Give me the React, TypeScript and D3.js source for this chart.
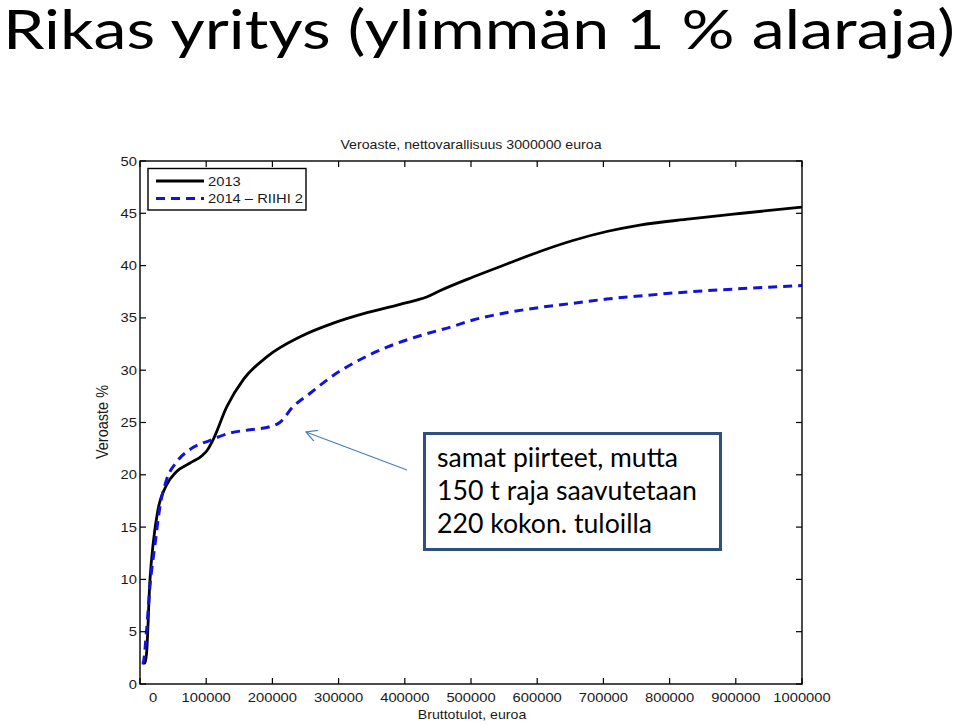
import React from "react";
import * as d3 from "d3";

const xTicks = [0, 100000, 200000, 300000, 400000, 500000, 600000, 700000, 800000, 900000, 1000000];
const yTicks = [0, 5, 10, 15, 20, 25, 30, 35, 40, 45, 50];

const income2013 = [4500, 7600, 10000, 15000, 20000, 27000, 40000, 55000, 75000, 95000, 101000, 110000, 131000, 156000, 192000, 242000, 292000, 343000, 393000, 418000, 433000, 453000, 503000, 554000, 604000, 654000, 705000, 755000, 831000, 906000, 1000000];
const rate2013 = [2.0, 2.0, 3.0, 9.9, 13.5, 16.6, 19.0, 20.3, 21.1, 21.9, 22.3, 23.3, 26.5, 29.1, 31.3, 33.2, 34.5, 35.5, 36.3, 36.7, 37.0, 37.6, 38.91, 40.15, 41.35, 42.4, 43.26, 43.88, 44.46, 44.98, 45.6];

const income2014 = [2600, 4500, 10000, 15000, 23000, 30000, 40000, 55000, 75000, 106000, 136000, 166000, 196000, 211000, 231000, 257000, 292000, 332000, 373000, 418000, 473000, 503000, 554000, 604000, 654000, 705000, 755000, 831000, 910000, 1000000];
const rate2014 = [2.0, 2.0, 5.2, 9.3, 13.5, 16.9, 19.5, 21.2, 22.4, 23.3, 24.0, 24.3, 24.6, 25.0, 26.5, 27.8, 29.5, 31.0, 32.2, 33.2, 34.2, 34.8, 35.5, 36.0, 36.4, 36.8, 37.1, 37.5, 37.8, 38.1];

const seriesNames = ["2013", "2014 \u2013 RIIHI 2"];
const pageTitle = "Rikas yritys (ylimmän 1 % alaraja)";
const chartTitle = "Veroaste, nettovarallisuus 3000000 euroa";
const xLabel = "Bruttotulot, euroa";
const yLabel = "Veroaste %";
const noteLines = ["samat piirteet, mutta", "150 t raja saavutetaan", "220 kokon. tuloilla"];
const noteWidths = [241, 260, 215];

const L = 140, R = 802, T = 161, B = 684;
const AX = "Liberation Sans, Arial, sans-serif";
const SX = 1.18;

function SText({ x, y, anchor = "middle", size = 12.5, children }: any) {
  return (
    <text transform={`translate(${x},${y}) scale(${SX},1)`} textAnchor={anchor} fontSize={size} fontFamily={AX} fill="#1a1a1a">
      {children}
    </text>
  );
}

export default function App() {
  const x = d3.scaleLinear().domain([0, 1000000]).range([L, R]);
  const y = d3.scaleLinear().domain([0, 50]).range([B, T]);
  const line = d3.line<[number, number]>().x((d) => x(d[0])).y((d) => y(d[1])).curve(d3.curveMonotoneX);
  const d2013 = line(income2013.map((v, i) => [v, rate2013[i]] as [number, number])) || "";
  const d2014 = line(income2014.map((v, i) => [v, rate2014[i]] as [number, number])) || "";

  return (
    <svg width={960} height={726} style={{ position: "absolute", left: 0, top: 0, background: "#fff" }}>
      <rect x={0} y={0} width={960} height={726} fill="#fff" />
      <text x={3} y={49} fontFamily="Lato, 'Open Sans', sans-serif" fontSize={55} fill="#000" textLength={952} lengthAdjust="spacingAndGlyphs">
        {pageTitle}
      </text>

      <SText x={471} y={149} size={12}>{chartTitle}</SText>

      <defs>
        <clipPath id="plotclip">
          <rect x={L} y={T} width={R - L} height={B - T} />
        </clipPath>
      </defs>
      <g clipPath="url(#plotclip)">
        <path d={d2013} fill="none" stroke="#000" strokeWidth={2.8} />
        <path d={d2014} fill="none" stroke="#1212dc" strokeWidth={3} strokeDasharray="9,6" />
      </g>

      <rect x={L} y={T} width={R - L} height={B - T} fill="none" stroke="#000" strokeWidth={1.4} />
      {xTicks.map((t) => (
        <g key={"xt" + t}>
          <line x1={x(t)} x2={x(t)} y1={B} y2={B - 6} stroke="#000" strokeWidth={1.2} />
          <line x1={x(t)} x2={x(t)} y1={T} y2={T + 6} stroke="#000" strokeWidth={1.2} />
          <SText x={x(t) + (t === 0 ? 13 : 0)} y={702}>{String(t)}</SText>
        </g>
      ))}
      {yTicks.map((t) => (
        <g key={"yt" + t}>
          <line x1={L} x2={L + 6} y1={y(t)} y2={y(t)} stroke="#000" strokeWidth={1.2} />
          <line x1={R} x2={R - 6} y1={y(t)} y2={y(t)} stroke="#000" strokeWidth={1.2} />
          <SText x={137} y={y(t) + 4.5} anchor="end">{String(t)}</SText>
        </g>
      ))}

      <SText x={472} y={719} size={12}>{xLabel}</SText>
      <text transform={`translate(108,422) rotate(-90) scale(1,${SX})`} textAnchor="middle" fontSize={14.5} fontFamily={AX} fill="#1a1a1a">
        {yLabel}
      </text>

      <rect x={148} y={168.5} width={158} height={41.5} fill="#fff" stroke="#000" strokeWidth={1.4} />
      <line x1={156} x2={204} y1={181} y2={181} stroke="#000" strokeWidth={3} />
      <line x1={156} x2={204} y1={198.5} y2={198.5} stroke="#1212dc" strokeWidth={3} strokeDasharray="9,6" />
      <SText x={208} y={185.5} anchor="start">{seriesNames[0]}</SText>
      <SText x={208} y={203} anchor="start">{seriesNames[1]}</SText>

      <defs>
        <marker id="arrowhead" viewBox="0 0 12 12" refX={11} refY={6} markerWidth={12} markerHeight={12} markerUnits="userSpaceOnUse" orient="auto">
          <path d="M0,0 L11,6 L0,12" fill="none" stroke="#4a7ebb" strokeWidth={1.2} />
        </marker>
      </defs>
      <line x1={407} y1={470} x2={306} y2={432} stroke="#4a7ebb" strokeWidth={1.3} markerEnd="url(#arrowhead)" />
      <rect x={424.5} y={433.5} width={296} height={116} fill="#fff" stroke="#2f4f80" strokeWidth={3} />
      {noteLines.map((s, i) => (
        <text key={s} x={437} y={467 + i * 33} fontFamily="Lato, 'Open Sans', sans-serif" fontSize={26} fill="#000" textLength={noteWidths[i]} lengthAdjust="spacingAndGlyphs">
          {s}
        </text>
      ))}
    </svg>
  );
}
